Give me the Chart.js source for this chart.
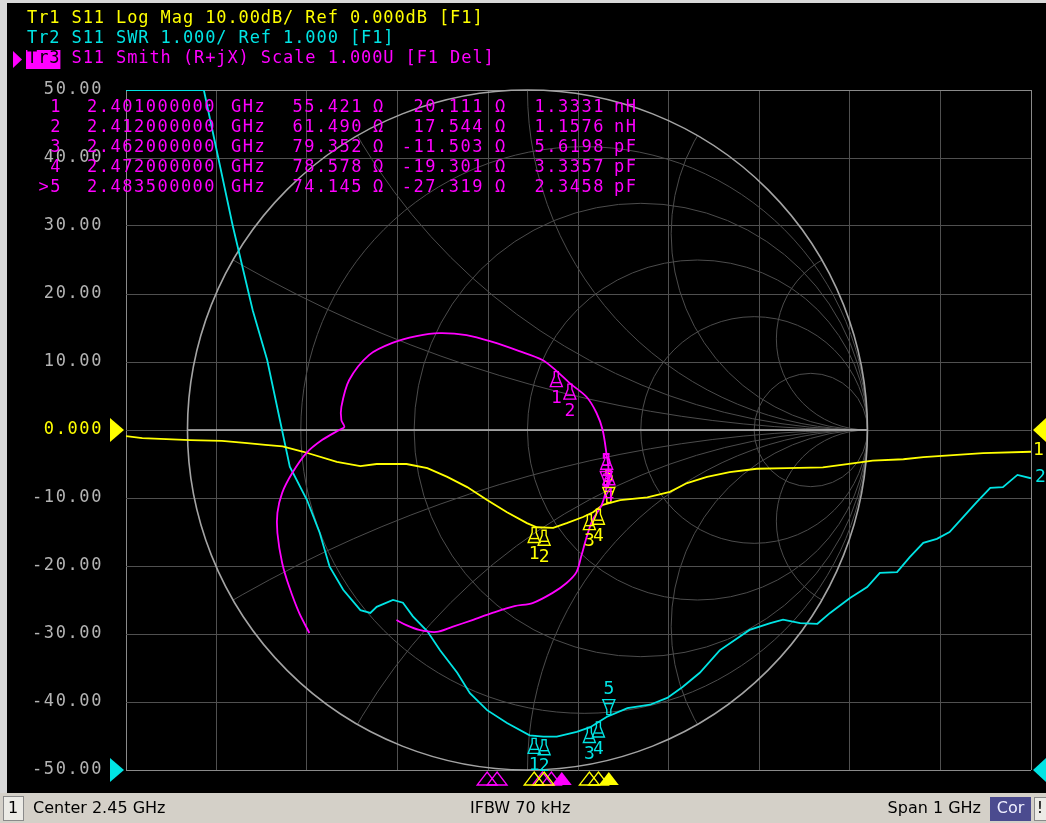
<!DOCTYPE html>
<html><head><meta charset="utf-8">
<style>html,body{margin:0;padding:0;background:#000;overflow:hidden}#wrap{position:relative;width:1046px;height:823px}</style>
<script src="https://cdn.jsdelivr.net/npm/chart.js@4.4.1/dist/chart.umd.min.js"></script>
</head><body><div id="wrap"><canvas id="c" width="1046" height="823"></canvas></div>
<script>
// ---------------- DATA ----------------
const headerLines = ['Tr1 S11 Log Mag 10.00dB/ Ref 0.000dB [F1]', 'Tr2 S11 SWR 1.000/ Ref 1.000 [F1]', 'Tr3 S11 Smith (R+jX) Scale 1.000U [F1 Del]'];
const statusTexts = ['Center 2.45 GHz', 'IFBW 70 kHz', 'Span 1 GHz', 'Cor'];
const yTickValues = [50, 40, 30, 20, 10, 0, -10, -20, -30, -40, -50];
const yTickLabels = ['50.00', '40.00', '30.00', '20.00', '10.00', '0.000', '-10.00', '-20.00', '-30.00', '-40.00', '-50.00'];
const xGridFreqs = [1.95, 2.05, 2.15, 2.25, 2.35, 2.45, 2.55, 2.65, 2.75, 2.85, 2.95];

// Tr1 Log Mag (dB)
const freqLogMag = [1.950, 1.968, 2.021, 2.056, 2.081, 2.104, 2.123, 2.146, 2.183, 2.209, 2.227, 2.260, 2.283, 2.305, 2.327, 2.349, 2.371, 2.393, 2.404, 2.422, 2.437, 2.455, 2.466, 2.477, 2.496, 2.526, 2.551, 2.570, 2.592, 2.617, 2.647, 2.680, 2.720, 2.753, 2.775, 2.809, 2.831, 2.864, 2.897, 2.950];
const logMagDb = [-0.9, -1.2, -1.5, -1.6, -1.9, -2.2, -2.4, -3.2, -4.7, -5.3, -5.0, -5.0, -5.6, -6.9, -8.4, -10.3, -12.1, -13.7, -14.3, -14.4, -13.7, -12.8, -12.1, -11.0, -10.3, -9.9, -9.1, -7.8, -6.9, -6.2, -5.7, -5.6, -5.5, -4.9, -4.5, -4.3, -4.0, -3.7, -3.4, -3.2];

// Tr2 SWR
const freqSwr = [1.950, 2.036, 2.052, 2.068, 2.090, 2.106, 2.131, 2.150, 2.164, 2.175, 2.190, 2.209, 2.220, 2.227, 2.245, 2.256, 2.267, 2.283, 2.297, 2.316, 2.330, 2.349, 2.371, 2.396, 2.411, 2.426, 2.448, 2.463, 2.481, 2.504, 2.529, 2.548, 2.565, 2.584, 2.606, 2.639, 2.662, 2.676, 2.695, 2.714, 2.728, 2.750, 2.769, 2.783, 2.802, 2.816, 2.831, 2.846, 2.860, 2.875, 2.890, 2.905, 2.919, 2.935, 2.950];
const swrValues = [11.0, 11.0, 10.0, 9.0, 7.76, 7.03, 5.46, 4.97, 4.49, 3.99, 3.65, 3.35, 3.31, 3.40, 3.50, 3.46, 3.26, 3.04, 2.76, 2.43, 2.13, 1.88, 1.69, 1.51, 1.49, 1.49, 1.56, 1.63, 1.78, 1.91, 1.96, 2.06, 2.22, 2.43, 2.76, 3.06, 3.16, 3.21, 3.16, 3.15, 3.31, 3.53, 3.69, 3.90, 3.91, 4.13, 4.34, 4.40, 4.50, 4.72, 4.94, 5.15, 5.16, 5.34, 5.29];

// Tr3 Smith: reflection coefficient (real, imag), 1.95 -> 2.95 GHz
const smithRe = [-0.641, -0.671, -0.700, -0.721, -0.735, -0.735, -0.721, -0.691, -0.650, -0.603, -0.553, -0.538, -0.547, -0.547, -0.524, -0.465, -0.397, -0.326, -0.259, -0.179, -0.103, -0.024, 0.044, 0.085, 0.124, 0.174, 0.203, 0.221, 0.232, 0.238, 0.232, 0.218, 0.191, 0.174, 0.159, 0.144, 0.115, 0.074, 0.015, -0.038, -0.103, -0.162, -0.221, -0.268, -0.318, -0.356, -0.385];
const smithIm = [-0.597, -0.538, -0.462, -0.391, -0.303, -0.244, -0.185, -0.126, -0.068, -0.029, 0.000, 0.009, 0.029, 0.068, 0.147, 0.221, 0.256, 0.276, 0.285, 0.279, 0.259, 0.232, 0.206, 0.174, 0.138, 0.097, 0.050, 0.000, -0.068, -0.115, -0.171, -0.221, -0.265, -0.315, -0.368, -0.418, -0.450, -0.479, -0.509, -0.518, -0.538, -0.559, -0.579, -0.594, -0.588, -0.574, -0.559];

// Markers
const markerNames = ['1', '2', '3', '4', '>5'];
const markerFreq = [2.401, 2.412, 2.462, 2.472, 2.4835];
const markerLogMag = [-14.2, -14.6, -12.3, -11.5, -10.8];
const markerSwr = [1.48, 1.46, 1.64, 1.72, 1.80];
const markerR = [55.421, 61.490, 79.352, 78.578, 74.145];
const markerX = [20.111, 17.544, -11.503, -19.301, -27.319];
const markerLC = [1.3331, 1.1576, 5.6198, 3.3357, 2.3458];
const markerLCUnit = ['nH', 'nH', 'pF', 'pF', 'pF'];
const activeMarker = 4;
const z0 = 50;

// Smith chart grid values
const smithGridR = [0.2, 0.5, 1, 2, 5];
const smithGridX = [3.732, 1.732, 1, 0.577, 0.268];

// ---------------- STYLE ----------------
const YEL = '#ffff00', CYA = '#00e4e4', MAG = '#ff00ff';
const GRID = '#505050', EDGE = '#8a8a8a', TICK = '#b4b4b4';
const MONO = '"DejaVu Sans Mono", monospace';

function gammaOf(r, x) {
  const zr = r / z0, zi = x / z0;
  const nr = zr - 1, ni = zi, dr = zr + 1, di = zi;
  const d = dr * dr + di * di;
  return { x: (nr * dr + ni * di) / d, y: (ni * dr - nr * di) / d };
}

const bgPlugin = {
  id: 'bg',
  beforeDraw(chart) {
    const ctx = chart.ctx;
    ctx.save();
    ctx.fillStyle = '#000'; ctx.fillRect(0, 0, 1046, 823);
    ctx.fillStyle = '#d8d8d8'; ctx.fillRect(0, 0, 1046, 3); ctx.fillRect(0, 0, 7, 793);
    ctx.restore();
    ctx.letterSpacing = '1.6px';
  }
};

const smithGridPlugin = {
  id: 'smithGrid',
  beforeDatasetsDraw(chart) {
    const ctx = chart.ctx, gx = chart.scales.gx, gy = chart.scales.gy;
    ctx.letterSpacing = '0px';
    const cx = gx.getPixelForValue(0), cy = gy.getPixelForValue(0);
    const R = gy.getPixelForValue(0) - gy.getPixelForValue(1);
    ctx.save();
    ctx.beginPath(); ctx.arc(cx, cy, R, 0, Math.PI * 2); ctx.clip();
    ctx.strokeStyle = '#4c4c4c'; ctx.lineWidth = 1;
    for (const r of smithGridR) {
      ctx.beginPath(); ctx.arc(cx + R * r / (1 + r), cy, R / (1 + r), 0, Math.PI * 2); ctx.stroke();
    }
    for (const x of smithGridX) for (const s of [1, -1]) {
      ctx.beginPath(); ctx.arc(cx + R, cy - s * R / x, R / x, 0, Math.PI * 2); ctx.stroke();
    }
    ctx.restore();
    ctx.save();
    ctx.strokeStyle = '#bcbcbc'; ctx.lineWidth = 1.5;
    ctx.beginPath(); ctx.moveTo(cx - R, cy); ctx.lineTo(cx + R, cy); ctx.stroke();
    ctx.strokeStyle = '#a4a4a4'; ctx.lineWidth = 1.6;
    ctx.beginPath(); ctx.arc(cx, cy, R, 0, Math.PI * 2); ctx.stroke();
    ctx.restore();
  }
};

function markerShape(ctx, px, py, up, filled) {
  const s = up ? 1 : -1;
  ctx.beginPath();
  ctx.moveTo(px - 2, py + s * 1); ctx.lineTo(px + 2, py + s * 1);
  ctx.lineTo(px + 2, py + s * 6); ctx.lineTo(px + 6, py + s * 16);
  ctx.lineTo(px - 6, py + s * 16); ctx.lineTo(px - 2, py + s * 6); ctx.closePath();
  if (filled) ctx.fill(); else ctx.stroke();
  ctx.beginPath(); ctx.moveTo(px - 4, py + s * 12); ctx.lineTo(px + 4, py + s * 12); ctx.stroke();
}

function drawTraceMarkers(ctx, pts, color) {
  ctx.save();
  ctx.strokeStyle = color; ctx.fillStyle = color; ctx.lineWidth = 1.4;
  ctx.font = '18px ' + MONO; ctx.textAlign = 'center'; ctx.textBaseline = 'middle';
  ctx.letterSpacing = '0px';
  pts.forEach((p, i) => {
    const label = String(i + 1);
    if (i === activeMarker) {
      markerShape(ctx, p.x, p.y, false, false);
      ctx.fillText(label, p.x, p.y - 26);
    } else {
      markerShape(ctx, p.x, p.y, true, false);
      ctx.fillText(label, p.x, p.y + 28);
    }
  });
  ctx.restore();
}

const overlayPlugin = {
  id: 'overlay',
  afterDraw(chart) {
    const ctx = chart.ctx, sx = chart.scales.x, sy = chart.scales.y, sw = chart.scales.ySwr;
    const gx = chart.scales.gx, gy = chart.scales.gy;
    const area = chart.chartArea;

    // markers on traces
    drawTraceMarkers(ctx, markerFreq.map((f, i) => ({ x: sx.getPixelForValue(f), y: sy.getPixelForValue(markerLogMag[i]) })), YEL);
    drawTraceMarkers(ctx, markerFreq.map((f, i) => ({ x: sx.getPixelForValue(f), y: sw.getPixelForValue(markerSwr[i]) })), CYA);
    drawTraceMarkers(ctx, markerR.map((r, i) => { const g = gammaOf(r, markerX[i]); return { x: gx.getPixelForValue(g.x), y: gy.getPixelForValue(g.y) }; }), MAG);

    // stimulus markers below the grid
    const smithShift = gx.getPixelForValue(0) - (area.left + area.right) / 2;
    const stim = (color, shift) => {
      ctx.save(); ctx.strokeStyle = color; ctx.fillStyle = color; ctx.lineWidth = 1.3;
      markerFreq.forEach((f, i) => {
        const px = sx.getPixelForValue(f) + shift, y0 = area.bottom + 2;
        ctx.beginPath(); ctx.moveTo(px, y0); ctx.lineTo(px + 10, y0 + 13); ctx.lineTo(px - 10, y0 + 13); ctx.closePath();
        if (i === activeMarker) ctx.fill(); else ctx.stroke();
      });
      ctx.restore();
    };
    stim(MAG, smithShift + 4);
    stim(YEL, 0);

    // reference position triangles
    const refTri = (y, color) => {
      ctx.save(); ctx.fillStyle = color;
      ctx.beginPath(); ctx.moveTo(area.left - 16, y - 12); ctx.lineTo(area.left - 2, y); ctx.lineTo(area.left - 16, y + 12); ctx.closePath(); ctx.fill();
      ctx.beginPath(); ctx.moveTo(1046, y - 12); ctx.lineTo(area.right + 2, y); ctx.lineTo(1046, y + 12); ctx.closePath(); ctx.fill();
      ctx.restore();
    };
    refTri(sy.getPixelForValue(0), YEL);
    refTri(sw.getPixelForValue(1), CYA);

    // trace end labels
    ctx.save();
    ctx.font = '18px ' + MONO; ctx.textBaseline = 'middle'; ctx.textAlign = 'left'; ctx.letterSpacing = '0px';
    ctx.fillStyle = YEL; ctx.fillText('1', area.right + 2, sy.getPixelForValue(logMagDb[logMagDb.length - 1]) - 1);
    ctx.fillStyle = CYA; ctx.fillText('2', area.right + 4, sw.getPixelForValue(swrValues[swrValues.length - 1]) - 1);
    ctx.restore();

    // header
    ctx.save();
    ctx.font = '17px ' + MONO; ctx.textBaseline = 'middle'; ctx.textAlign = 'left';
    ctx.letterSpacing = '0.9px';
    ctx.fillStyle = YEL; ctx.fillText(headerLines[0], 27, 19);
    ctx.fillStyle = CYA; ctx.fillText(headerLines[1], 27, 39);
    const tr3 = headerLines[2].slice(0, 3), rest = headerLines[2].slice(3);
    const w3 = ctx.measureText(tr3).width;
    ctx.fillStyle = MAG; ctx.fillRect(26, 50, w3 + 1, 19);
    ctx.beginPath(); ctx.moveTo(13, 51); ctx.lineTo(22, 59.5); ctx.lineTo(13, 68); ctx.closePath(); ctx.fill();
    ctx.fillStyle = '#000'; ctx.fillText(tr3, 27, 59);
    ctx.fillStyle = MAG; ctx.fillText(rest, 27 + w3, 59);

    // marker table
    ctx.letterSpacing = '1.5px';
    markerNames.forEach((n, i) => {
      const y = 108 + 20 * i;
      ctx.textAlign = 'right';
      ctx.fillText(n, 62, y);
      ctx.textAlign = 'left';
      ctx.fillText(markerFreq[i].toFixed(9), 87, y);
      ctx.fillText('GHz', 231, y);
      ctx.textAlign = 'right';
      ctx.fillText(markerR[i].toFixed(3), 363, y);
      ctx.textAlign = 'left';
      ctx.fillText('\u03A9', 373, y);
      ctx.textAlign = 'right';
      ctx.fillText(markerX[i].toFixed(3), 484, y);
      ctx.textAlign = 'left';
      ctx.fillText('\u03A9', 495, y);
      ctx.textAlign = 'right';
      ctx.fillText(markerLC[i].toFixed(4), 605, y);
      ctx.textAlign = 'left';
      ctx.fillText(markerLCUnit[i], 614, y);
    });
    ctx.restore();

    // status bar
    ctx.save();
    ctx.letterSpacing = '0px';
    ctx.fillStyle = '#d4d0c8'; ctx.fillRect(0, 793, 1046, 30);
    ctx.fillStyle = '#ecebe6'; ctx.fillRect(3, 796, 21, 25);
    ctx.strokeStyle = '#8a8a8a'; ctx.lineWidth = 1; ctx.strokeRect(3.5, 796.5, 20, 24);
    ctx.fillStyle = '#000'; ctx.font = '16px "DejaVu Sans", sans-serif'; ctx.textBaseline = 'middle';
    ctx.textAlign = 'center'; ctx.fillText('1', 13, 809);
    ctx.textAlign = 'left';
    ctx.fillText(statusTexts[0], 33, 809);
    ctx.fillText(statusTexts[1], 470, 809);
    ctx.textAlign = 'right';
    ctx.fillText(statusTexts[2], 981, 809);
    ctx.fillStyle = '#4b4b8f'; ctx.fillRect(990, 797, 41, 24);
    ctx.fillStyle = '#f0f0ff'; ctx.textAlign = 'center'; ctx.fillText(statusTexts[3], 1010.5, 809);
    ctx.fillStyle = '#ecebe6'; ctx.fillRect(1034, 797, 12, 24);
    ctx.strokeStyle = '#8a8a8a'; ctx.strokeRect(1034.5, 797.5, 12, 23);
    ctx.fillStyle = '#000'; ctx.fillText('!', 1040, 809);
    ctx.restore();
  }
};

// ---------------- CHART ----------------
const ctx = document.getElementById('c').getContext('2d');
new Chart(ctx, {
  type: 'scatter',
  data: {
    datasets: [
      { label: 'Tr3 Smith', data: smithRe.map((re, i) => ({ x: re, y: smithIm[i] })), xAxisID: 'gx', yAxisID: 'gy',
        showLine: true, borderColor: MAG, borderWidth: 1.8, pointRadius: 0, tension: 0.3, order: 1 },
      { label: 'Tr1 LogMag', data: freqLogMag.map((f, i) => ({ x: f, y: logMagDb[i] })), xAxisID: 'x', yAxisID: 'y',
        showLine: true, borderColor: YEL, borderWidth: 1.8, pointRadius: 0, order: 2 },
      { label: 'Tr2 SWR', data: freqSwr.map((f, i) => ({ x: f, y: swrValues[i] })), xAxisID: 'x', yAxisID: 'ySwr',
        showLine: true, borderColor: CYA, borderWidth: 1.8, pointRadius: 0, order: 3 }
    ]
  },
  options: {
    responsive: false, animation: false, devicePixelRatio: 1,
    layout: { padding: { left: 0, top: 90, right: 15, bottom: 53 } },
    plugins: { legend: { display: false }, tooltip: { enabled: false } },
    scales: {
      x: {
        type: 'linear', min: 1.95, max: 2.95, position: 'bottom',
        afterBuildTicks: (s) => { s.ticks = xGridFreqs.map(v => ({ value: v })); },
        afterFit: (s) => { s.height = 0; },
        ticks: { display: false, autoSkip: false },
        grid: { drawTicks: false, lineWidth: 1, color: (c) => (c.index === 0 || c.index === xGridFreqs.length - 1) ? EDGE : GRID },
        border: { display: false }
      },
      y: {
        type: 'linear', min: -50, max: 50, position: 'left',
        afterBuildTicks: (s) => { s.ticks = yTickValues.map(v => ({ value: v })); },
        afterFit: (s) => { s.width = 126; },
        ticks: {
          padding: 23, autoSkip: false,
          font: { family: 'DejaVu Sans Mono', size: 17 },
          color: (c) => c.tick.value === 0 ? YEL : TICK,
          callback: (v) => yTickLabels[yTickValues.indexOf(v)]
        },
        grid: { drawTicks: false, lineWidth: 1, color: (c) => (c.tick.value === 50 || c.tick.value === -50) ? EDGE : GRID },
        border: { display: false }
      },
      ySwr: { type: 'linear', min: 1, max: 11, display: false },
      gx: { type: 'linear', min: -1.18, max: 1.48, display: false },
      gy: { type: 'linear', min: -1, max: 1, display: false }
    }
  },
  plugins: [bgPlugin, smithGridPlugin, overlayPlugin]
});
</script></body></html>
